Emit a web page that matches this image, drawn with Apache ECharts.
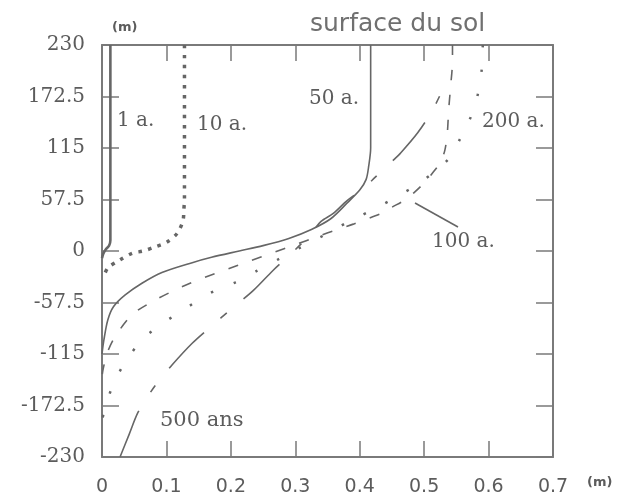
<!DOCTYPE html>
<html>
<head>
<meta charset="utf-8">
<script src="https://cdn.jsdelivr.net/npm/echarts@6/dist/echarts.min.js"></script>
<style>
html,body{margin:0;padding:0;background:#fff;}
#chart{width:623px;height:500px;}
</style>
</head>
<body>
<div id="chart"></div>
<script>
// Axis ticks
const xTicks = [0, 0.1, 0.2, 0.3, 0.4, 0.5, 0.6, 0.7];
const yTicks = [-230, -172.5, -115, -57.5, 0, 57.5, 115, 172.5, 230];

// Curves: depth (m) and value (m)
const depth1a = [230, 12, 6, 2, -3, -8];
const x1a     = [0.013, 0.013, 0.011, 0.006, 0.002, 0];

const depth10a = [230, 57, 46, 35, 20, 10, 4.5, 0, -2.5, -10, -19, -30];
const x10a     = [0.128, 0.128, 0.127, 0.126, 0.117, 0.101, 0.082, 0.064, 0.047, 0.028, 0.009, 0.002];

const depth50a = [230, 115, 95, 80, 68, 54, 36, 24, 14, 6, 0, -7, -13, -24, -36, -49, -62, -77, -99, -115];
const x50a     = [0.417, 0.417, 0.414, 0.410, 0.400, 0.381, 0.355, 0.325, 0.290, 0.250, 0.213, 0.170, 0.140, 0.093, 0.062, 0.036, 0.018, 0.009, 0.003, 0];

const depth100a = [230, 213, 183, 157, 132, 112, 99, 87, 76, 65, 57, 48, 43, 35, 30, 24, 16, 7, -2, -12, -21, -30, -41, -55, -71, -96, -114, -131, -140];
const x100a     = [0.544, 0.544, 0.541, 0.538, 0.536, 0.532, 0.525, 0.513, 0.500, 0.484, 0.470, 0.448, 0.437, 0.409, 0.390, 0.365, 0.334, 0.300, 0.265, 0.226, 0.192, 0.157, 0.121, 0.082, 0.047, 0.020, 0.008, 0.002, 0];

const depth200a = [230, 200, 174, 149, 124, 102, 77, 60, 46, 34, 20, 5, -8, -22, -35, -47, -63, -79, -97, -124, -150, -174, -190];
const x200a     = [0.591, 0.589, 0.583, 0.572, 0.555, 0.537, 0.495, 0.456, 0.420, 0.386, 0.351, 0.311, 0.277, 0.241, 0.207, 0.168, 0.132, 0.098, 0.065, 0.036, 0.017, 0.005, 0];

const depth500 = [-230, -205, -180, -158, -147, -127, -103, -85, -64, -44, -22, -4, 16, 33, 42, 56, 70, 83, 102, 109, 132, 156, 182];
const x500     = [0.028, 0.042, 0.056, 0.075, 0.086, 0.109, 0.140, 0.168, 0.202, 0.235, 0.265, 0.292, 0.320, 0.340, 0.359, 0.380, 0.406, 0.425, 0.453, 0.463, 0.490, 0.512, 0.530];

function pairs(xs, ys) { return xs.map((v, i) => [v, ys[i]]); }

const lineColor = '#666';
const axisColor = '#7a7a7a';
const labelColor = '#5c5c5c';
const serif = '"DejaVu Serif", "Liberation Serif", serif';
const sans = '"DejaVu Sans", "Open Sans", sans-serif';

const chart = echarts.init(document.getElementById('chart'), null, {renderer: 'canvas'});

const baseX = {
  type: 'value', min: 0, max: 0.7, interval: 0.1,
  axisLine: {show: true, onZero: false, lineStyle: {color: axisColor, width: 2}},
  axisTick: {show: true, inside: true, length: 16, lineStyle: {color: axisColor, width: 1.5}},
  splitLine: {show: false}
};
const baseY = {
  type: 'value', min: -230, max: 230, interval: 57.5,
  axisLine: {show: true, onZero: false, lineStyle: {color: axisColor, width: 2}},
  axisTick: {show: true, inside: true, length: 17, lineStyle: {color: axisColor, width: 1.5}},
  splitLine: {show: false}
};

function curve(name, xs, ys, width, type, smooth) {
  return {
    name: name, type: 'line', xAxisIndex: 0, yAxisIndex: 0,
    data: pairs(xs, ys), showSymbol: false, symbol: 'none', smooth: smooth,
    lineStyle: {color: lineColor, width: width, type: type, cap: 'butt'},
    silent: true, animation: false
  };
}

const option = {
  animation: false,
  backgroundColor: '#fff',
  grid: {left: 102, top: 45, width: 451, height: 412, containLabel: false},
  xAxis: [
    Object.assign({}, baseX, {position: 'bottom',
      axisLabel: {show: true, fontFamily: sans, fontSize: 19, color: labelColor, margin: 21}}),
    Object.assign({}, baseX, {position: 'top', axisLabel: {show: false}})
  ],
  yAxis: [
    Object.assign({}, baseY, {position: 'left',
      axisLabel: {show: true, fontFamily: serif, fontSize: 20, color: labelColor, margin: 17}}),
    Object.assign({}, baseY, {position: 'right', axisLabel: {show: false}})
  ],
  series: [
    curve('1 a.', x1a, depth1a, 2.6, 'solid', 0.3),
    curve('10 a.', x10a, depth10a, 3.5, [3.5, 6.5], 0.3),
    curve('50 a.', x50a, depth50a, 1.6, 'solid', 0.3),
    curve('100 a.', x100a, depth100a, 1.6, [10, 15], 0.3),
    curve('200 a.', x200a, depth200a, 2.5, [2.5, 22], 0.3),
    curve('500 ans', x500, depth500, 1.6, [50, 22, 8, 22], 0.3)
  ],
  graphic: [
    {type: 'text', left: 112, top: 21, style: {text: '(m)', font: 'bold 13px ' + sans, fill: labelColor}},
    {type: 'text', left: 310, top: 12, style: {text: 'surface du sol', font: '25px ' + sans, fill: '#707070'}},
    {type: 'text', left: 117, top: 111, style: {text: '1 a.', font: '20px ' + serif, fill: labelColor}},
    {type: 'text', left: 197, top: 115, style: {text: '10 a.', font: '20px ' + serif, fill: labelColor}},
    {type: 'text', left: 309, top: 89, style: {text: '50 a.', font: '20px ' + serif, fill: labelColor}},
    {type: 'text', left: 482, top: 112, style: {text: '200 a.', font: '20px ' + serif, fill: labelColor}},
    {type: 'text', left: 432, top: 232, style: {text: '100 a.', font: '20px ' + serif, fill: labelColor}},
    {type: 'text', left: 160, top: 410, style: {text: '500 ans', font: '21px ' + serif, fill: labelColor}},
    {type: 'text', left: 587, top: 476, style: {text: '(m)', font: 'bold 13px ' + sans, fill: labelColor}},
    {type: 'line', shape: {x1: 415, y1: 203, x2: 458, y2: 227}, style: {stroke: lineColor, lineWidth: 1.6}}
  ]
};
chart.setOption(option);
</script>
</body>
</html>
